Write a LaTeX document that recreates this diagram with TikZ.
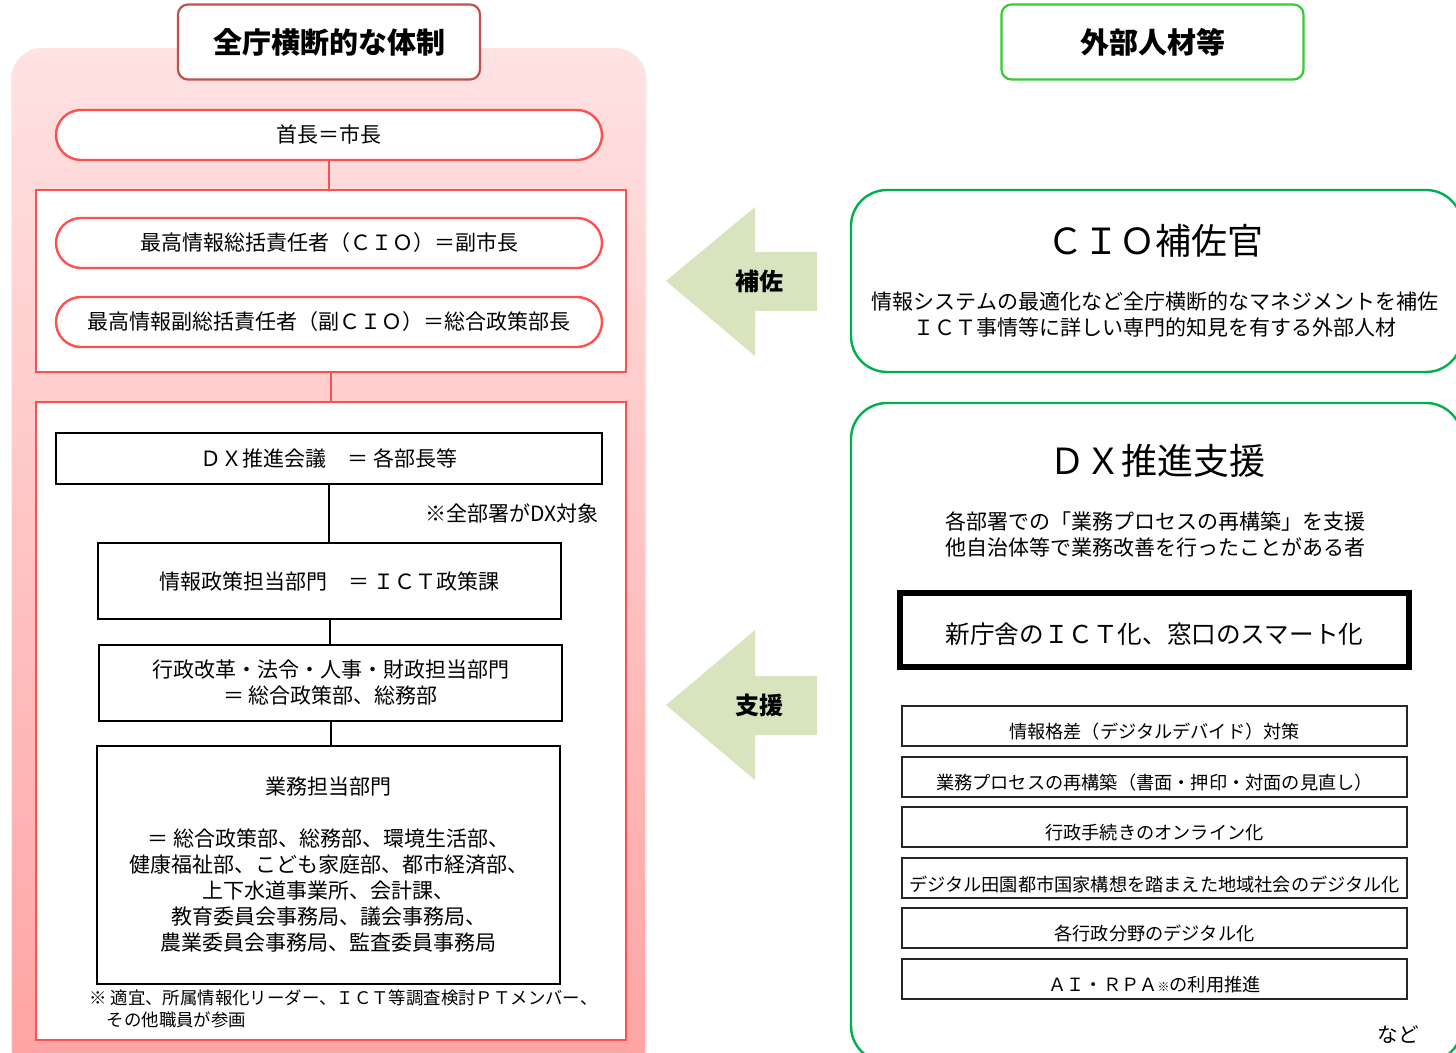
\documentclass[tikz,border=0pt]{standalone}
\usepackage{fontspec}
\setmainfont{Noto Sans CJK JP}
\usetikzlibrary{calc}
\definecolor{redline}{HTML}{FF5050}
\definecolor{titlered}{HTML}{C0504D}
\definecolor{titlegreen}{HTML}{33CC33}
\definecolor{boxgreen}{HTML}{00B050}
\definecolor{arrowgreen}{HTML}{D7E4BD}
\definecolor{pinktop}{HTML}{FFE2E2}
\definecolor{pinkbot}{HTML}{FFA3A3}
\newcommand{\lowr}[2]{\raisebox{-#1}[\height][\depth]{#2}}
\begin{document}
\begin{tikzpicture}[x=0.5pt,y=-0.5pt,
  fnt/.style={font=\fontsize{10.5}{13}\selectfont},
  ttl/.style={fill=white, rounded corners=5pt, line width=1.1pt, minimum width=151pt, minimum height=37.5pt, font=\fontsize{14.5}{16}\selectfont\bfseries},
  pill/.style={draw=redline, fill=white, line width=1.2pt, rounded corners=12.5pt, minimum width=273pt, minimum height=25pt, fnt},
  redbox/.style={draw=redline, fill=white, line width=1.1pt, minimum width=295pt},
  blkbox/.style={draw=black, fill=white, line width=1pt, fnt, align=center},
  grnbox/.style={draw=boxgreen, line width=1.2pt, rounded corners=18pt, minimum width=305.5pt},
  itembox/.style={draw=black!85, line width=0.7pt, fill=white, minimum width=252.5pt, minimum height=20pt, inner sep=0pt, font=\fontsize{9.1}{11}\selectfont},
  redconn/.style={draw=redline, line width=1.1pt},
  conn/.style={draw=black, line width=1pt},
  arrowshape/.style={fill=arrowgreen},
  plain/.style={inner sep=0pt, fnt, align=center}
]
\clip (0,0) rectangle (1456,1053);
\fill[white] (0,0) rectangle (1456,1053);

% ---------- left panel ----------
\fill[black!6, rounded corners=15pt] (11,49) rectangle (647,1080);
\shade[top color=pinktop, bottom color=pinkbot, rounded corners=15pt] (12,48) rectangle (645,1078);

\node[ttl, draw=titlered] (ttlL) at (329,42) {全庁横断的な体制};

\node[pill] (mayor) at (329,135) {首長＝市長};
\node[redbox, minimum height=91pt] (cioGroup) at (331,281) {};
\node[pill] (cio) at (329,243) {最高情報総括責任者（ＣＩＯ）＝副市長};
\node[pill] (vcio) at (329,322) {最高情報副総括責任者（副ＣＩＯ）＝総合政策部長};
\draw[redconn] (mayor.south) -- (mayor.south |- cioGroup.north);

\node[redbox, minimum height=319pt] (staffGroup) at (331,721) {};
\draw[redconn] (cioGroup.south) -- (staffGroup.north);

\node[blkbox, minimum width=273pt, minimum height=25.5pt] (dx) at (329,458.5) {ＤＸ推進会議　＝ 各部長等};
\node[blkbox, minimum width=231.5pt, minimum height=38pt] (ict) at (329.5,581) {情報政策担当部門　＝ ＩＣＴ政策課};
\node[blkbox, minimum width=231.5pt, minimum height=38pt] (admin) at (330.5,683) {行政改革・法令・人事・財政担当部門\\＝ 総合政策部、総務部};
\node[blkbox, minimum width=231.5pt, minimum height=119pt] (biz) at (328.5,865) {業務担当部門\\[13pt]＝ 総合政策部、総務部、環境生活部、\\健康福祉部、こども家庭部、都市経済部、\\上下水道事業所、会計課、\\教育委員会事務局、議会事務局、\\農業委員会事務局、監査委員事務局};
\draw[conn] (dx.south) -- (dx.south |- ict.north);
\draw[conn] (ict.south) -- (ict.south |- admin.north);
\draw[conn] (admin.south) -- (admin.south |- biz.north);

\node[plain, anchor=east] (dxNote) at (599,513) {※全部署がDX対象};
\node[inner sep=0pt, anchor=north west, align=left, font=\fontsize{8.7}{11}\selectfont] (bizNote) at (89,989)
  {※ 適宜、所属情報化リーダー、ＩＣＴ等調査検討ＰＴメンバー、\\\hspace*{1em}その他職員が参画};

% ---------- right side ----------
\node[ttl, draw=titlegreen] (ttlR) at (1152.5,42) {外部人材等};

% arrows
\fill[arrowshape] (817,252) -- (755,252) -- (755,207) -- (666,281) -- (755,356) -- (755,311) -- (817,311) -- cycle;
\node[inner sep=0pt, font=\fontsize{12}{14}\selectfont\bfseries] (hosa) at (759,281) {補佐};
\fill[arrowshape] (817,676) -- (755,676) -- (755,630) -- (666,705) -- (755,780) -- (755,735) -- (817,735) -- cycle;
\node[inner sep=0pt, font=\fontsize{12}{14}\selectfont\bfseries] (shien) at (759,705) {支援};

% CIO adviser
\node[grnbox, minimum height=91pt] (cioAdv) at (1156.5,281) {};
\node[inner sep=0pt, font=\fontsize{18}{20}\selectfont] (cioAdvT) at (1155,241) {ＣＩＯ補佐官};
\node[plain] (cioAdvD) at (1155,315) {情報システムの最適化など全庁横断的なマネジメントを補佐\\ＩＣＴ事情等に詳しい専門的知見を有する外部人材};

% DX support
\node[grnbox, minimum height=329.5pt] (dxs) at (1156.5,732.5) {};
\node[inner sep=0pt, font=\fontsize{18}{20}\selectfont] (dxsT) at (1157,461) {ＤＸ推進支援};
\node[plain] (dxsD) at (1155,534) {各部署での「業務プロセスの再構築」を支援\\他自治体等で業務改善を行ったことがある者};

\node[draw=black, line width=3pt, fill=white, minimum width=254.5pt, minimum height=37pt, inner sep=0pt, font=\fontsize{12.3}{14}\selectfont] (smart) at (1154.5,630) {\lowr{2pt}{新庁舎のＩＣＴ化、窓口のスマート化}};

\node[itembox] (it1) at (1154.5,726) {\lowr{3pt}{情報格差（デジタルデバイド）対策}};
\node[itembox] (it2) at (1154.5,777) {\lowr{3pt}{業務プロセスの再構築（書面・押印・対面の見直し）}};
\node[itembox] (it3) at (1154.5,827) {\lowr{3pt}{行政手続きのオンライン化}};
\node[itembox] (it4) at (1154.5,878) {\lowr{3pt}{デジタル田園都市国家構想を踏まえた地域社会のデジタル化}};
\node[itembox] (it5) at (1154.5,928) {\lowr{3pt}{各行政分野のデジタル化}};
\node[itembox] (it6) at (1154.5,979) {\lowr{3pt}{ＡＩ・ＲＰＡ{\fontsize{6}{6}\selectfont ※}の利用推進}};

\node[inner sep=0pt, font=\fontsize{10.3}{12}\selectfont] (nado) at (1398,1035) {など};
\end{tikzpicture}
\end{document}
